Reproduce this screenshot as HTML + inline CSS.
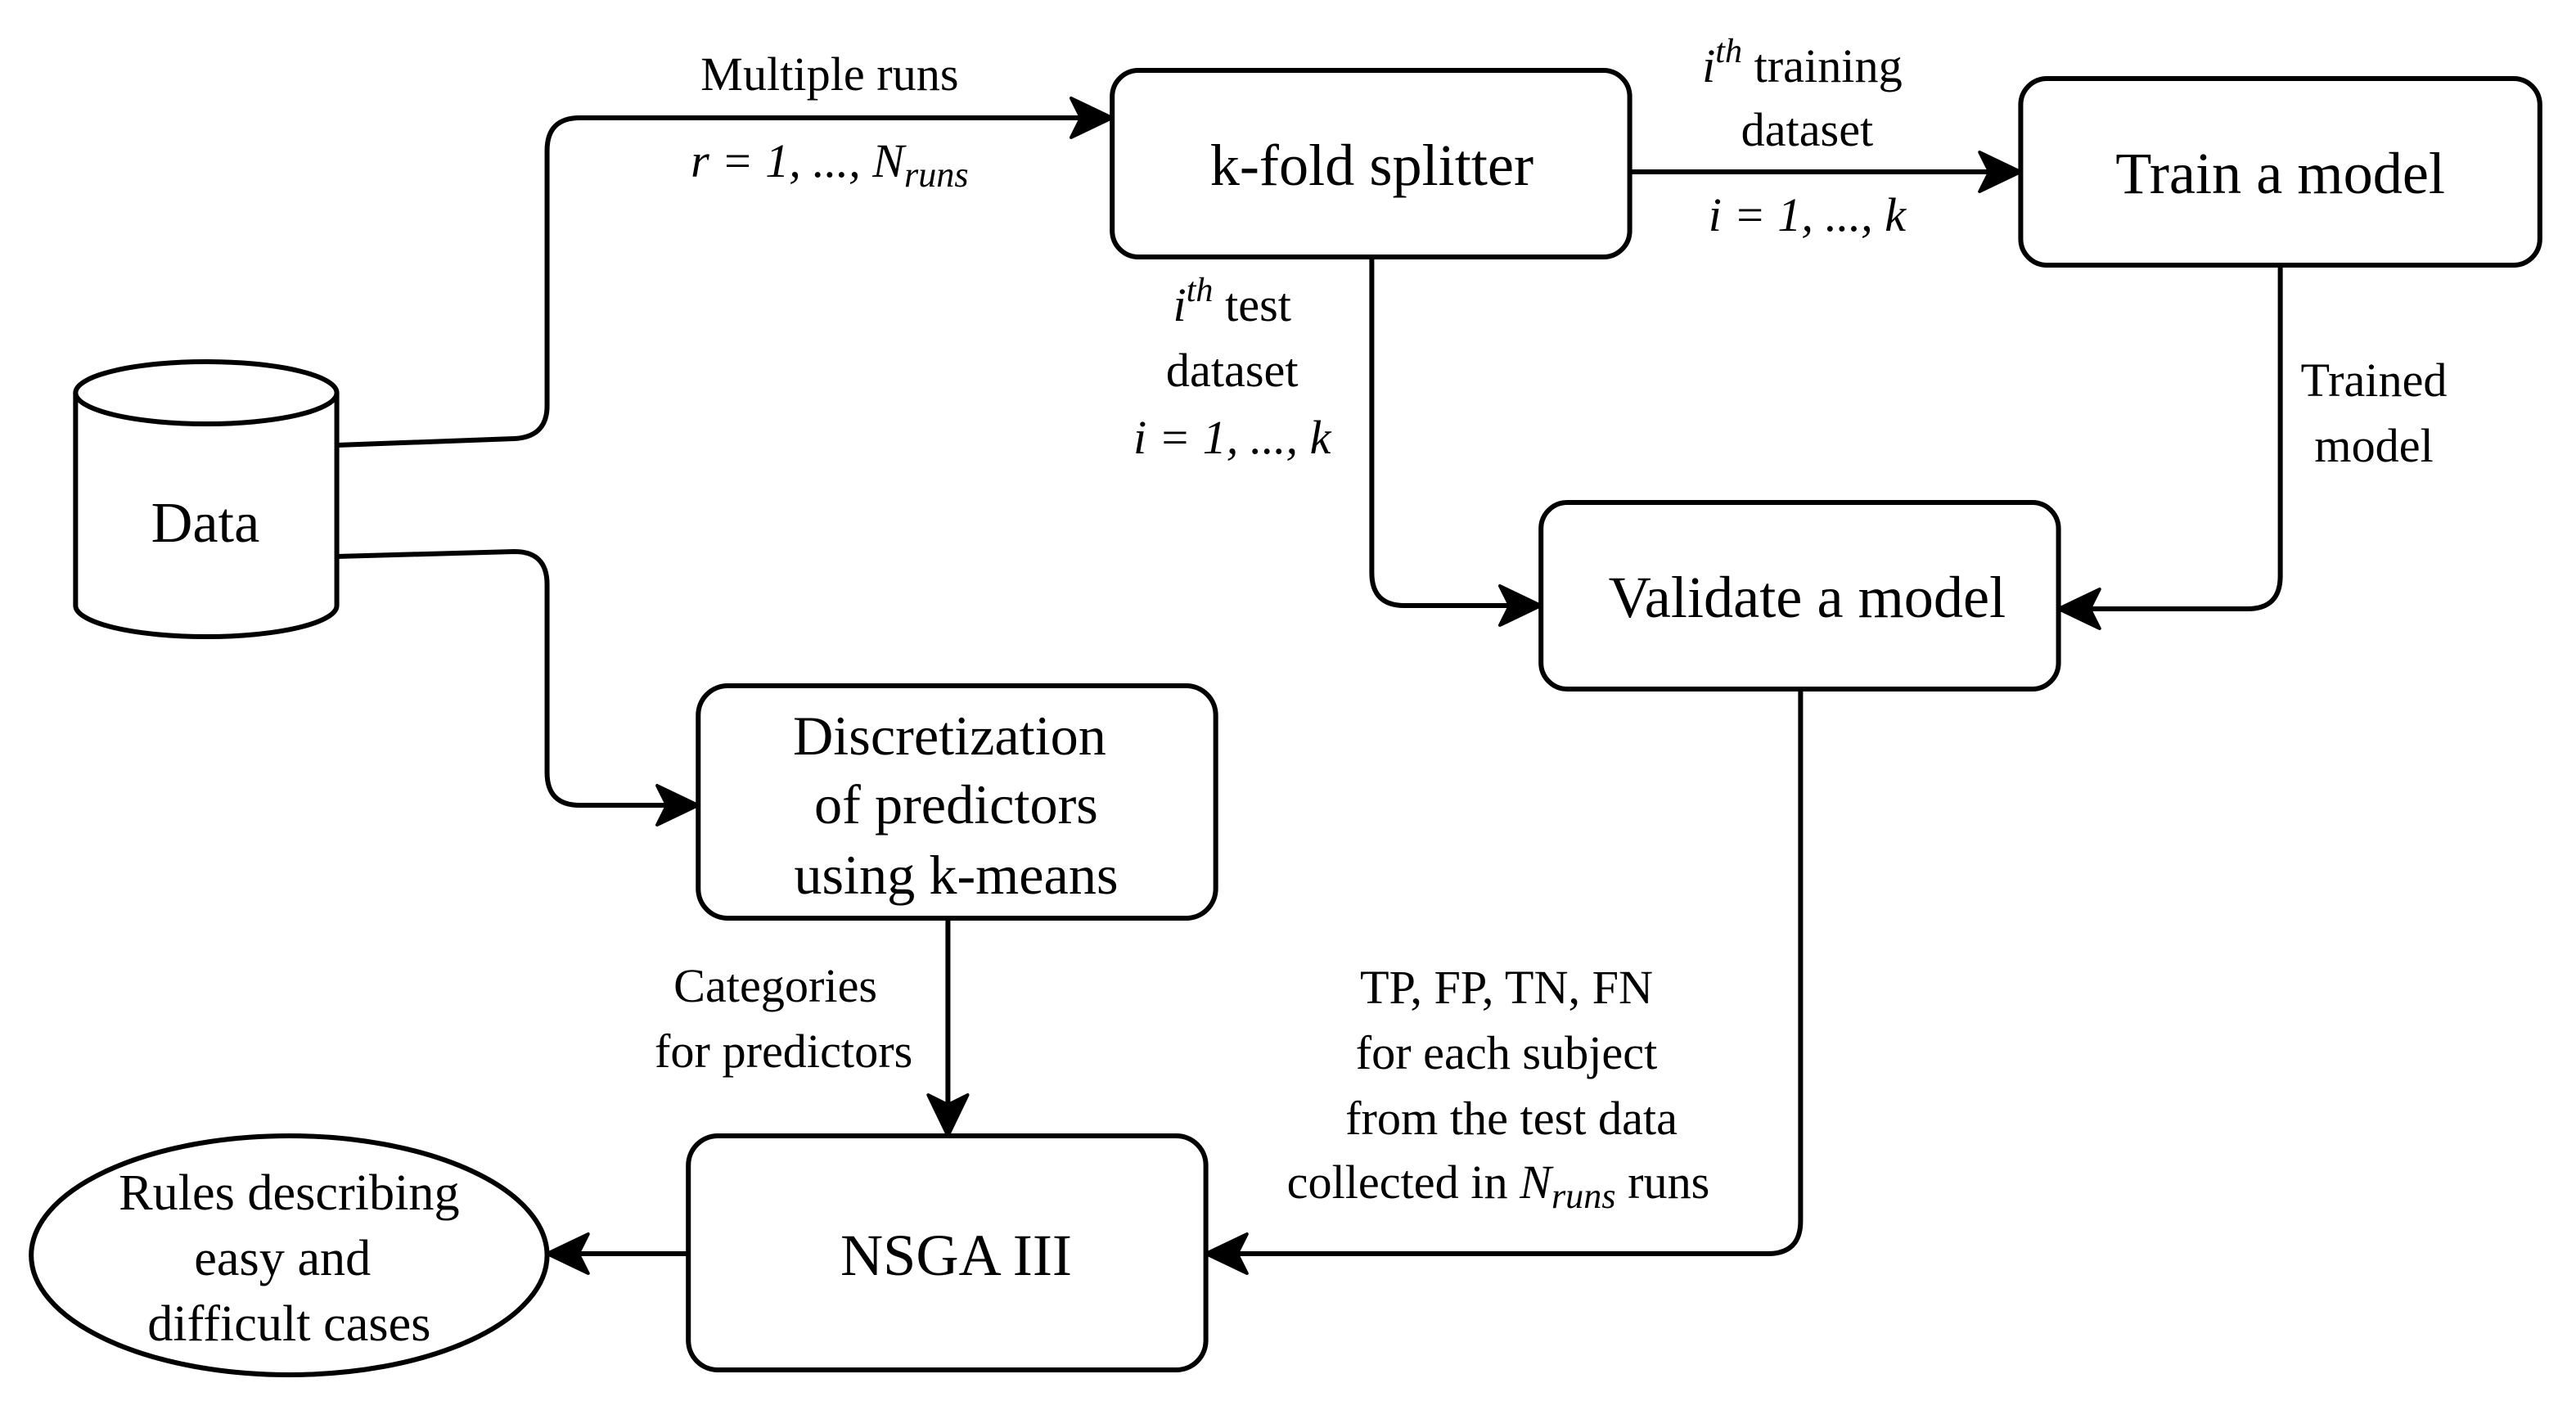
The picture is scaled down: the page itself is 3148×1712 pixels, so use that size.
<!DOCTYPE html>
<html><head><meta charset="utf-8"><style>
html,body{margin:0;padding:0;background:#fff;}
svg{display:block;}
svg text, svg tspan{font-family:"Liberation Serif","Times New Roman",Times,"DejaVu Serif",serif !important;fill:#000;}
</style></head><body>
<svg width="3148" height="1712" viewBox="0 0 1568 856" preserveAspectRatio="none" xmlns="http://www.w3.org/2000/svg">
<g fill="none" stroke="#000" stroke-width="3">
<path d="M46,240 L46,370 A79.5,19 0 0 0 205,370 L205,240"/>
<ellipse cx="125.5" cy="240" rx="79.5" ry="19"/>
<rect x="677" y="43" width="315" height="114" rx="16"/>
<rect x="1230" y="48" width="316" height="114" rx="16"/>
<rect x="938" y="307" width="315" height="114" rx="16"/>
<rect x="425" y="419" width="315" height="142" rx="18"/>
<rect x="419" y="694" width="315" height="143" rx="18"/>
<ellipse cx="176" cy="767" rx="157" ry="73"/>
<path d="M205,272 L313,268 Q333,267 333,248 L333,92 Q333,72 353,72 L662,72"/>
<path d="M205,340 L313,337 Q333,337 333,357 L333,472 Q333,492 353,492 L410,492"/>
<path d="M992,105 L1215,105"/>
<path d="M835,157 L835,350 Q835,370 855,370 L923,370"/>
<path d="M1388,162 L1388,352 Q1388,372 1368,372 L1268,372"/>
<path d="M1096,421 L1096,746 Q1096,766 1076,766 L749,766"/>
<path d="M577,561 L577,679"/>
<path d="M419,766 L348,766"/>
</g>
<g fill="#000" stroke="#000" stroke-width="2" stroke-linejoin="round">
<path d="M677,72 L652,60 L658,72 L652,84 Z"/>
<path d="M425,492 L400,480 L406,492 L400,504 Z"/>
<path d="M1230,105 L1205,93 L1211,105 L1205,117 Z"/>
<path d="M938,370 L913,358 L919,370 L913,382 Z"/>
<path d="M1253,372 L1278,360 L1272,372 L1278,384 Z"/>
<path d="M734,766 L759,754 L753,766 L759,778 Z"/>
<path d="M577,694 L565,669 L577,675 L589,669 Z"/>
<path d="M333,766 L358,754 L352,766 L358,778 Z"/>
</g>
<g text-anchor="middle">
<text x="125" y="331" font-size="35">Data</text>
<text x="835" y="113" font-size="36">k-fold splitter</text>
<text x="1388" y="118" font-size="36">Train a model</text>
<text x="1100" y="377" font-size="36">Validate a model</text>
<text x="578" y="461" font-size="34">Discretization</text>
<text x="582" y="503" font-size="34">of predictors</text>
<text x="582" y="546" font-size="34">using k-means</text>
<text x="582" y="779" font-size="36">NSGA III</text>
<text x="176" y="739" font-size="31">Rules describing</text>
<text x="172" y="779" font-size="31">easy and</text>
<text x="176" y="819" font-size="31">difficult cases</text>
<text x="505" y="55" font-size="29">Multiple runs</text>
<text x="505" y="108" font-size="29" font-style="italic">r = 1, ..., N<tspan font-size="22" dy="6">runs</tspan></text>
<text x="1097" y="50" font-size="29"><tspan font-style="italic">i</tspan><tspan font-style="italic" font-size="21" dy="-12">th</tspan><tspan dy="12"> training</tspan></text>
<text x="1100" y="89" font-size="29">dataset</text>
<text x="1100" y="141" font-size="29" font-style="italic">i = 1, ..., k</text>
<text x="750" y="196" font-size="29"><tspan font-style="italic">i</tspan><tspan font-style="italic" font-size="21" dy="-12">th</tspan><tspan dy="12"> test</tspan></text>
<text x="750" y="236" font-size="29">dataset</text>
<text x="750" y="277" font-size="29" font-style="italic">i = 1, ..., k</text>
<text x="1445" y="242" font-size="29">Trained</text>
<text x="1445" y="282" font-size="29">model</text>
<text x="472" y="612" font-size="29">Categories</text>
<text x="477" y="652" font-size="29">for predictors</text>
<text x="917" y="613" font-size="29">TP, FP, TN, FN</text>
<text x="917" y="653" font-size="29">for each subject</text>
<text x="920" y="693" font-size="29">from the test data</text>
<text x="912" y="732" font-size="29">collected in <tspan font-style="italic">N</tspan><tspan font-style="italic" font-size="22" dy="6">runs</tspan><tspan dy="-6"> runs</tspan></text>
</g>
</svg>
</body></html>
